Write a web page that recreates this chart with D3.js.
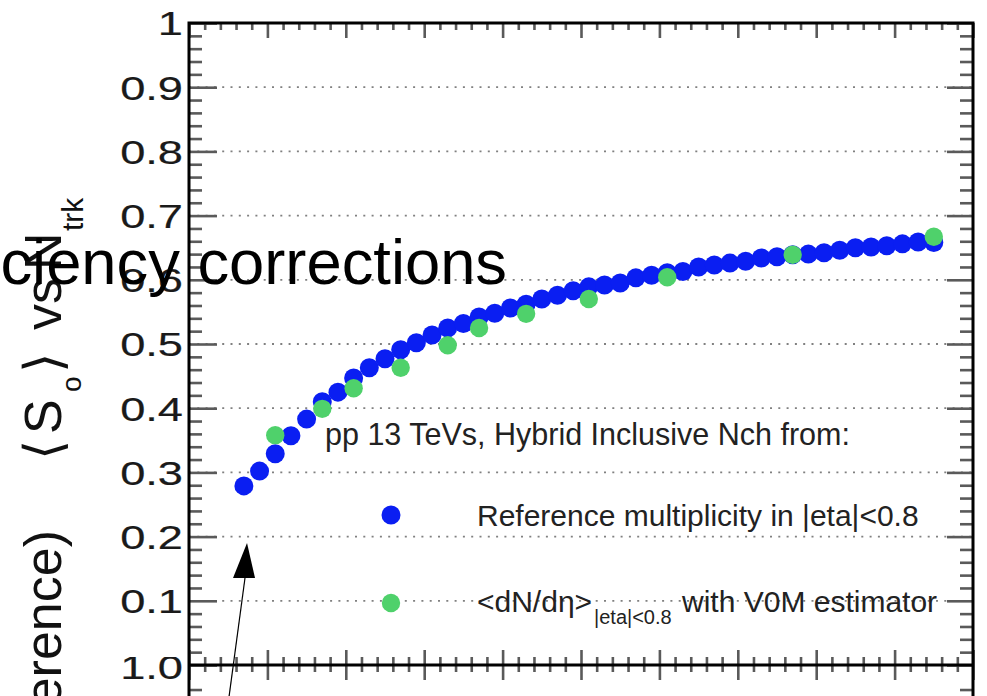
<!DOCTYPE html>
<html><head><meta charset="utf-8">
<script src="https://cdn.jsdelivr.net/npm/d3@7"></script>
<style>html,body{margin:0;padding:0;background:#fff;overflow:hidden}svg{display:block}</style>
</head><body><svg id="c" width="987" height="696"></svg>
<script>
// ---- data ----
const blueX = [3.5,4.5,5.5,6.5,7.5,8.5,9.5,10.5,11.5,12.5,13.5,14.5,15.5,16.5,17.5,18.5,19.5,20.5,21.5,22.5,23.5,24.5,25.5,26.5,27.5,28.5,29.5,30.5,31.5,32.5,33.5,34.5,35.5,36.5,37.5,38.5,39.5,40.5,41.5,42.5,43.5,44.5,45.5,46.5,47.5];
const blueY = [0.279,0.302,0.329,0.357,0.383,0.410,0.425,0.447,0.463,0.477,0.491,0.502,0.514,0.525,0.532,0.542,0.548,0.556,0.562,0.570,0.576,0.583,0.589,0.592,0.595,0.603,0.607,0.611,0.613,0.620,0.623,0.626,0.629,0.634,0.636,0.639,0.640,0.642,0.646,0.650,0.651,0.653,0.656,0.659,0.658];
const greenX = [5.5,8.5,10.5,13.5,16.5,18.5,21.5,25.5,30.5,38.5,47.5];
const greenY = [0.358,0.399,0.431,0.463,0.498,0.525,0.547,0.570,0.604,0.639,0.667];
const yTickLabels = [0.1,0.2,0.3,0.4,0.5,0.6,0.7,0.8,0.9,1];
const legendTitle = "pp 13 TeVs, Hybrid Inclusive Nch from:";
const legendBlue = "Reference multiplicity in |eta|<0.8";
const legendGreenA = "<dN/d\u03B7>", legendGreenSub = "|eta|<0.8", legendGreenB = "with V0M estimator";

// ---- layout ----
const L = 189, R = 973, T = 23, B = 665;
const x = d3.scaleLinear().domain([0, 50]).range([L, R]);
const y = d3.scaleLinear().domain([0, 1]).range([B, T]);
const svg = d3.select("#c");
const FONT = "'Liberation Sans', Arial, Helvetica, 'DejaVu Sans', sans-serif";
const BLUE = "#0a1ef2", GREEN = "#4fd16b", TICK = "#5a5a5a";

// grid (dotted)
svg.append("g").selectAll("line").data(yTickLabels.filter(d => d < 1)).join("line")
  .attr("x1", L).attr("x2", R).attr("y1", d => y(d)).attr("y2", d => y(d))
  .attr("stroke", "#808080").attr("stroke-width", 1.8).attr("stroke-dasharray", "2,6.3");

const majorX = d3.range(0, 51, 5), minorX = d3.range(0, 51, 1).filter(d => d % 5 !== 0);
const majorY = d3.range(0, 11).map(d => d / 10), minorY = d3.range(0, 51).filter(d => d % 5 !== 0).map(d => d / 50);
function ticks(g) { g.select(".domain").remove(); g.selectAll("line").attr("stroke", TICK).attr("stroke-width", 2.6); g.selectAll("text").remove(); }

// top axis ticks (inward)
svg.append("g").attr("transform", `translate(0,${T})`).call(d3.axisTop(x).tickValues(majorX).tickSize(-15)).call(ticks);
svg.append("g").attr("transform", `translate(0,${T})`).call(d3.axisTop(x).tickValues(minorX).tickSize(-7)).call(ticks);
// bottom axis: upper pad ticks up, lower pad ticks down
svg.append("g").attr("transform", `translate(0,${B})`).call(d3.axisBottom(x).tickValues(majorX).tickSize(-15)).call(ticks);
svg.append("g").attr("transform", `translate(0,${B})`).call(d3.axisBottom(x).tickValues(minorX).tickSize(-8)).call(ticks);
svg.append("g").attr("transform", `translate(0,${B})`).call(d3.axisBottom(x).tickValues(majorX).tickSize(15)).call(ticks);
svg.append("g").attr("transform", `translate(0,${B})`).call(d3.axisBottom(x).tickValues(minorX).tickSize(7)).call(ticks);
// left / right ticks
svg.append("g").attr("transform", `translate(${L},0)`).call(d3.axisLeft(y).tickValues(majorY).tickSize(-28)).call(ticks);
svg.append("g").attr("transform", `translate(${L},0)`).call(d3.axisLeft(y).tickValues(minorY).tickSize(-13)).call(ticks);
svg.append("g").attr("transform", `translate(${R},0)`).call(d3.axisRight(y).tickValues(majorY).tickSize(-26)).call(ticks);
svg.append("g").attr("transform", `translate(${R},0)`).call(d3.axisRight(y).tickValues(minorY).tickSize(-13)).call(ticks);
// lower pad ticks visible at bottom edge
[L, R].forEach((px, i) => svg.append("line").attr("x1", px).attr("x2", px + (i ? -13 : 13))
  .attr("y1", y(-0.039)).attr("y2", y(-0.039)).attr("stroke", TICK).attr("stroke-width", 2.6));

// y tick labels
const yl = svg.append("g").attr("transform", `translate(${L},0)`)
  .call(d3.axisLeft(y).tickValues(yTickLabels).tickSize(0).tickPadding(6).tickFormat(d => d === 1 ? "1" : d3.format(".1f")(d)));
yl.select(".domain").remove();
yl.selectAll("text").attr("font-family", FONT).attr("font-size", 34).attr("fill", "#1a1a1a")
  .attr("stroke", "#1a1a1a").attr("stroke-width", 0.2)
  .attr("x", 0).attr("dy", "0.35em").attr("transform", "translate(-6,0) scale(1.33,1)");

// lower pad label "1.0" partially hidden by the upper pad
svg.append("clipPath").attr("id", "lowclip").append("rect").attr("x", 0).attr("y", 657).attr("width", 187).attr("height", 40);
svg.append("g").attr("clip-path", "url(#lowclip)")
  .append("text").attr("transform", `translate(183,${y(-0.004)}) scale(1.33,1)`)
  .attr("text-anchor", "end").attr("dy", "0.35em").attr("font-family", FONT).attr("font-size", 34)
  .attr("fill", "#1a1a1a").attr("stroke", "#1a1a1a").attr("stroke-width", 0.2).text("1.0");

// frame
svg.append("path").attr("d", `M${L},696 V${T} H${R} V696`).attr("fill", "none").attr("stroke", "#000").attr("stroke-width", 3);
svg.append("line").attr("x1", L).attr("x2", R).attr("y1", B).attr("y2", B).attr("stroke", "#000").attr("stroke-width", 3);

// y-axis title
const tt = svg.append("text").attr("transform", "translate(61,460) rotate(-90)").attr("font-family", FONT).attr("font-size", 52).attr("fill", "#111");
tt.append("tspan").attr("x", 0).text("\u27E8");
tt.append("tspan").attr("x", 26).text("S");
tt.append("tspan").attr("x", 68).attr("dy", 20).attr("font-size", 28).text("o");
tt.append("tspan").attr("x", 87).attr("dy", -20).text("\u27E9");
tt.append("tspan").attr("x", 130).text("vs");
tt.append("tspan").attr("x", 190).text("N");
tt.append("tspan").attr("x", 229).attr("dy", 22).attr("font-size", 30).text("trk");
svg.append("text").attr("transform", "translate(61,460) rotate(-90)").attr("x", -70).attr("text-anchor", "end")
  .attr("font-family", FONT).attr("font-size", 52).attr("fill", "#111").text("(Hybrid/Reference)");

// overlay title
svg.append("text").attr("x", 507).attr("y", 284).attr("text-anchor", "end").attr("font-family", FONT)
  .attr("font-size", 63.3).attr("fill", "#000").text("efficiency corrections");

// data points
const blue = blueX.map((d, i) => ({x: d, y: blueY[i]}));
const green = greenX.map((d, i) => ({x: d, y: greenY[i]}));
svg.append("g").selectAll("circle").data(blue).join("circle")
  .attr("cx", d => x(d.x)).attr("cy", d => y(d.y)).attr("r", 9.5).attr("fill", BLUE);
svg.append("g").selectAll("circle").data(green).join("circle")
  .attr("cx", d => x(d.x)).attr("cy", d => y(d.y)).attr("r", 9.2).attr("fill", GREEN);

// arrow annotation
const ax0 = x(2.55), ay0 = y(-0.05), ax1 = x(3.7), ay1 = y(0.19);
svg.append("line").attr("x1", ax0).attr("y1", ay0).attr("x2", ax1).attr("y2", ay1 + 20).attr("stroke", "#000").attr("stroke-width", 1.2);
svg.append("path").attr("d", `M${ax1},${ay1} L${ax1 - 14},${ay1 + 35} L${ax1 + 8},${ay1 + 35} Z`).attr("fill", "#000");

// legend
const lg = svg.append("g").attr("font-family", FONT).attr("fill", "#222");
lg.append("text").attr("x", 325).attr("y", 445).attr("font-size", 30.5).text(legendTitle);
lg.append("circle").attr("cx", 391).attr("cy", 515).attr("r", 9.5).attr("fill", BLUE);
lg.append("text").attr("x", 477).attr("y", 526).attr("font-size", 30).text(legendBlue);
lg.append("circle").attr("cx", 391).attr("cy", 603).attr("r", 9.2).attr("fill", GREEN);
const gt = lg.append("text").attr("x", 477).attr("y", 612).attr("font-size", 30);
gt.append("tspan").text(legendGreenA);
gt.append("tspan").attr("x", 594).attr("dy", 12).attr("font-size", 20).text(legendGreenSub);
gt.append("tspan").attr("x", 682).attr("dy", -12).text(legendGreenB);
</script></body></html>
